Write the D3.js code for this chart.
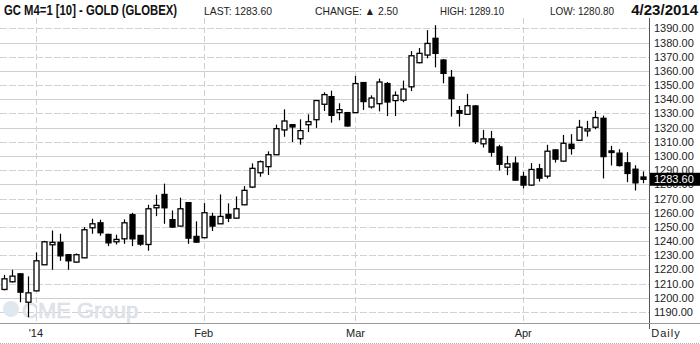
<!DOCTYPE html>
<html>
<head>
<meta charset="utf-8">
<script src="https://cdn.jsdelivr.net/npm/d3@7"></script>
<style>
  html, body { margin: 0; padding: 0; background: #fff; }
  svg { display: block; }
  text { font-family: "Liberation Sans", Arial, sans-serif; }
</style>
</head>
<body>
<svg class="chart"></svg>
<script>
// trading days shown on the chart (Dec 26 2013 .. Apr 23 2014)
const dates = [
  '2013-12-26', '2013-12-27', '2013-12-30', '2013-12-31',
  '2014-01-02', '2014-01-03', '2014-01-06', '2014-01-07', '2014-01-08', '2014-01-09', '2014-01-10',
  '2014-01-13', '2014-01-14', '2014-01-15', '2014-01-16', '2014-01-17',
  '2014-01-21', '2014-01-22', '2014-01-23', '2014-01-24',
  '2014-01-27', '2014-01-28', '2014-01-29', '2014-01-30', '2014-01-31',
  '2014-02-03', '2014-02-04', '2014-02-05', '2014-02-06', '2014-02-07',
  '2014-02-10', '2014-02-11', '2014-02-12', '2014-02-13', '2014-02-14',
  '2014-02-18', '2014-02-19', '2014-02-20', '2014-02-21',
  '2014-02-24', '2014-02-25', '2014-02-26', '2014-02-27', '2014-02-28',
  '2014-03-03', '2014-03-04', '2014-03-05', '2014-03-06', '2014-03-07',
  '2014-03-10', '2014-03-11', '2014-03-12', '2014-03-13', '2014-03-14',
  '2014-03-17', '2014-03-18', '2014-03-19', '2014-03-20', '2014-03-21',
  '2014-03-24', '2014-03-25', '2014-03-26', '2014-03-27', '2014-03-28', '2014-03-31',
  '2014-04-01', '2014-04-02', '2014-04-03', '2014-04-04',
  '2014-04-07', '2014-04-08', '2014-04-09', '2014-04-10', '2014-04-11',
  '2014-04-14', '2014-04-15', '2014-04-16', '2014-04-17',
  '2014-04-21', '2014-04-22', '2014-04-23',
];

const open = [
  1205.9, 1211.3, 1216.9, 1196.9, 1204.9, 1223.3, 1237.4, 1239.1, 1230.4, 1225.2,
  1228.2, 1249.4, 1252.9, 1244.7, 1239.5, 1241.6, 1258.6, 1244.0, 1237.6, 1263.5,
  1272.9, 1255.1, 1250.6, 1267.1, 1243.3, 1242.4, 1257.4, 1252.2, 1258.8, 1256.2,
  1265.6, 1278.1, 1288.2, 1292.5, 1300.9, 1318.4, 1322.1, 1312.2, 1322.1, 1325.6,
  1336.5, 1341.9, 1330.6, 1330.6, 1330.6, 1351.8, 1334.6, 1336.9, 1351.1, 1339.1,
  1339.4, 1348.8, 1365.8, 1371.2, 1383.0, 1367.7, 1355.5, 1332.0, 1329.4, 1335.3,
  1308.6, 1312.1, 1306.4, 1292.1, 1295.0, 1285.6, 1279.5, 1291.0, 1285.8, 1304.3,
  1296.4, 1308.3, 1311.1, 1317.7, 1320.3, 1326.6, 1303.6, 1302.0, 1295.2, 1290.7,
  1285.2,
];
const high = [
  1216.2, 1219.8, 1217.2, 1215.1, 1232.0, 1240.2, 1247.5, 1245.2, 1230.6, 1231.3,
  1249.9, 1255.8, 1255.1, 1245.2, 1244.5, 1255.3, 1260.0, 1244.3, 1265.6, 1272.7,
  1280.5, 1261.6, 1270.6, 1267.3, 1253.9, 1266.8, 1260.0, 1272.9, 1266.6, 1271.5,
  1278.8, 1294.8, 1296.9, 1303.3, 1322.1, 1332.9, 1322.4, 1325.9, 1329.4, 1339.5,
  1344.9, 1346.1, 1337.2, 1331.1, 1356.5, 1352.2, 1342.8, 1354.6, 1352.2, 1345.6,
  1353.2, 1374.0, 1376.2, 1388.8, 1392.3, 1368.4, 1360.7, 1335.3, 1343.8, 1336.0,
  1318.4, 1317.7, 1307.9, 1300.1, 1299.6, 1288.8, 1295.0, 1294.5, 1307.9, 1304.8,
  1314.9, 1315.4, 1325.5, 1324.8, 1331.8, 1328.5, 1307.2, 1304.8, 1302.7, 1293.5,
  1289.1,
];
const low = [
  1205.2, 1210.8, 1196.9, 1186.3, 1204.7, 1223.1, 1219.8, 1226.1, 1219.8, 1224.7,
  1228.0, 1245.2, 1243.8, 1236.5, 1237.6, 1238.1, 1236.5, 1236.7, 1233.2, 1257.6,
  1252.2, 1249.4, 1250.4, 1238.1, 1238.8, 1242.1, 1247.1, 1252.0, 1253.4, 1255.8,
  1265.4, 1277.4, 1285.4, 1286.6, 1300.7, 1313.6, 1309.9, 1308.0, 1316.9, 1319.8,
  1331.8, 1323.5, 1325.2, 1320.7, 1330.4, 1332.5, 1333.4, 1331.5, 1328.2, 1328.2,
  1337.9, 1345.8, 1365.4, 1368.9, 1362.5, 1351.3, 1327.8, 1320.8, 1329.2, 1308.6,
  1306.0, 1299.6, 1289.8, 1286.5, 1282.7, 1277.1, 1279.2, 1282.0, 1284.2, 1295.4,
  1296.1, 1301.0, 1310.9, 1313.7, 1318.9, 1284.2, 1293.3, 1292.6, 1281.6, 1275.7,
  1280.8,
];
const close = [
  1213.4, 1215.3, 1204.0, 1203.5, 1226.1, 1239.5, 1239.1, 1229.6, 1226.1, 1230.4,
  1248.0, 1252.2, 1245.9, 1238.8, 1241.2, 1252.9, 1241.6, 1237.9, 1262.8, 1265.2,
  1263.5, 1249.9, 1262.8, 1242.1, 1239.3, 1260.0, 1250.6, 1257.4, 1256.2, 1262.8,
  1275.8, 1291.3, 1296.0, 1300.9, 1319.3, 1324.7, 1320.5, 1317.9, 1324.2, 1339.1,
  1343.3, 1328.7, 1332.7, 1321.2, 1351.1, 1338.4, 1340.9, 1352.2, 1338.1, 1342.8,
  1347.2, 1370.7, 1372.4, 1379.4, 1372.4, 1358.3, 1340.5, 1330.2, 1335.5, 1310.2,
  1312.1, 1302.7, 1294.2, 1294.5, 1283.0, 1279.5, 1290.5, 1284.4, 1303.4, 1297.8,
  1309.0, 1305.3, 1320.3, 1319.1, 1327.1, 1299.6, 1302.5, 1293.3, 1287.7, 1281.1,
  1283.6,
];

const priceTicks = [1190, 1200, 1210, 1220, 1230, 1240, 1250, 1260, 1270, 1280, 1290,
  1300, 1310, 1320, 1330, 1340, 1350, 1360, 1370, 1380, 1390];
const monthTicks = ['2014-01-02', '2014-02-03', '2014-03-03', '2014-04-01'];
const monthLabels = ["'14", 'Feb', 'Mar', 'Apr'];

const lastPrice = 1283.60;
const headerItems = [
  { text: 'LAST: 1283.60', x: 204, w: 68 },
  { text: 'CHANGE: \u25B2 2.50', x: 315, w: 83 },
  { text: 'HIGH: 1289.10', x: 440, w: 64 },
  { text: 'LOW: 1280.80', x: 550, w: 64 },
];

const WIDTH = 700;
const HEIGHT = 344;
const PLOT = { left: 0, right: 649, top: 18, bottom: 323 };
const BODY_WIDTH = 5;

const svg = d3.select('svg.chart')
  .attr('width', WIDTH)
  .attr('height', HEIGHT);

const x = d3.scalePoint()
  .domain(dates)
  .range([4, 643]);

const y = d3.scaleLinear()
  .domain([1190, 1390])
  .range([312, 28.4]);

const crisp = v => Math.round(v) + 0.5;

// grid
const grid = svg.append('g').attr('class', 'grid');
grid.selectAll('line.h')
  .data(priceTicks)
  .enter()
.append('line')
  .attr('class', 'h')
  .attr('x1', PLOT.left)
  .attr('x2', PLOT.right)
  .attr('y1', d => crisp(y(d)))
  .attr('y2', d => crisp(y(d)))
  .attr('stroke', (d, i) => (i % 2 ? '#cfcfcf' : '#d6d0d6'))
  .attr('stroke-dasharray', (d, i) => (i % 2 ? null : '7,2'));

grid.selectAll('line.v')
  .data(monthTicks)
  .enter()
.append('line')
  .attr('class', 'v')
  .attr('x1', d => crisp(x(d)))
  .attr('x2', d => crisp(x(d)))
  .attr('y1', PLOT.top)
  .attr('y2', PLOT.bottom)
  .attr('stroke', '#cfcfcf')
  .attr('stroke-dasharray', '6,3');

// watermark
const mark = svg.append('g').attr('class', 'watermark');
mark.append('circle')
  .attr('cx', 11).attr('cy', 309).attr('r', 8)
  .attr('fill', '#dfe7ef');
mark.append('text')
  .attr('x', 22).attr('y', 318)
  .attr('font-size', 22)
  .attr('fill', '#e2e6ec')
  .attr('stroke', '#d6dce4')
  .attr('stroke-width', 0.6)
  .text('CME Group');

// candles
const candles = svg.append('g').attr('class', 'candles');
const candle = candles.selectAll('.candle')
  .data(dates.map((d, i) => ({ date: d, o: open[i], h: high[i], l: low[i], c: close[i] })))
  .enter()
.append('g')
  .attr('class', 'candle')
  .attr('transform', d => `translate(${crisp(x(d.date))},0)`);

candle.append('line')
  .attr('y1', d => y(d.h))
  .attr('y2', d => y(d.l))
  .attr('stroke', '#000')
  .attr('stroke-width', 1.2);

candle.append('rect')
  .attr('x', -BODY_WIDTH / 2)
  .attr('y', d => y(Math.max(d.o, d.c)))
  .attr('width', BODY_WIDTH)
  .attr('height', d => Math.max(1, Math.abs(y(d.o) - y(d.c))))
  .attr('fill', d => (d.c >= d.o ? '#fff' : '#000'))
  .attr('stroke', '#000')
  .attr('stroke-width', 1.3);

// right price axis
const axisRight = svg.append('g').attr('class', 'axis axis-y');
axisRight.append('line')
  .attr('x1', 649.5).attr('x2', 649.5)
  .attr('y1', PLOT.top).attr('y2', PLOT.bottom + 6)
  .attr('stroke', '#555');
axisRight.selectAll('text')
  .data(priceTicks)
  .enter()
.append('text')
  .attr('x', 654)
  .attr('y', d => y(d) + 4)
  .attr('font-size', 11)
  .attr('fill', '#222')
  .text(d => d3.format('.2f')(d));

axisRight.append('rect')
  .attr('x', 650).attr('y', y(lastPrice) - 6.5)
  .attr('width', 50).attr('height', 13)
  .attr('fill', '#000');
axisRight.append('text')
  .attr('x', 654)
  .attr('y', y(lastPrice) + 4)
  .attr('font-size', 11)
  .attr('fill', '#fff')
  .text(d3.format('.2f')(lastPrice));

// bottom date axis
const axisBottom = svg.append('g').attr('class', 'axis axis-x');
axisBottom.append('line')
  .attr('x1', 0).attr('x2', WIDTH)
  .attr('y1', PLOT.bottom + 0.5).attr('y2', PLOT.bottom + 0.5)
  .attr('stroke', '#9a9a9a');
axisBottom.append('line')
  .attr('x1', 0).attr('x2', WIDTH)
  .attr('y1', HEIGHT - 0.5).attr('y2', HEIGHT - 0.5)
  .attr('stroke', '#b0b0b0')
  .attr('stroke-dasharray', '1,1');
axisBottom.selectAll('text.month')
  .data(monthTicks)
  .enter()
.append('text')
  .attr('class', 'month')
  .attr('x', d => x(d))
  .attr('y', 337)
  .attr('text-anchor', 'middle')
  .attr('font-size', 11)
  .attr('fill', '#222')
  .text((d, i) => monthLabels[i]);
axisBottom.append('text')
  .attr('x', 666)
  .attr('y', 337)
  .attr('text-anchor', 'middle')
  .attr('font-size', 11)
  .attr('fill', '#222')
  .attr('letter-spacing', 1)
  .text('Daily');

// header
const header = svg.append('g').attr('class', 'header');
header.append('text')
  .attr('x', 4).attr('y', 15)
  .attr('font-family', '"Liberation Sans Narrow", "Liberation Sans", Arial, sans-serif')
  .attr('font-weight', 'bold')
  .attr('font-size', 15)
  .attr('fill', '#111')
  .attr('textLength', 173)
  .attr('lengthAdjust', 'spacingAndGlyphs')
  .text('GC M4=1 [10] - GOLD (GLOBEX)');

header.selectAll('text.item')
  .data(headerItems)
  .enter()
.append('text')
  .attr('class', 'item')
  .attr('x', d => d.x).attr('y', 15)
  .attr('font-size', 11)
  .attr('fill', '#222')
  .attr('textLength', d => d.w)
  .attr('lengthAdjust', 'spacingAndGlyphs')
  .text(d => d.text);

header.append('text')
  .attr('x', 698).attr('y', 15)
  .attr('text-anchor', 'end')
  .attr('font-family', '"Liberation Sans Narrow", "Liberation Sans", Arial, sans-serif')
  .attr('font-weight', 'bold')
  .attr('font-size', 15)
  .attr('fill', '#111')
  .text('4/23/2014');
</script>
</body>
</html>
